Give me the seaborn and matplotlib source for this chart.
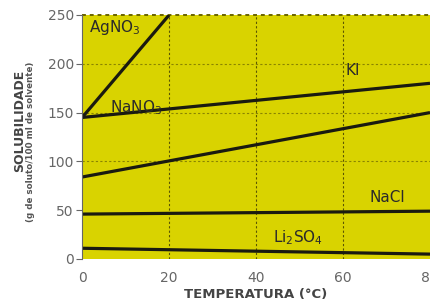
import pandas as pd
import matplotlib.pyplot as plt
import seaborn as sns

# solubility readings (g / 100 ml) at the chart's temperatures
temps = [0, 80]
agno3_temps = [0, 20]
agno3 = [145, 250]
ki = [145, 180]
nano3 = [84, 150]
nacl = [46, 49]
li2so4 = [11, 5]

df = pd.DataFrame({
    'temp': agno3_temps + temps * 4,
    'sol': agno3 + ki + nano3 + nacl + li2so4,
    'sal': ['AgNO3'] * 2 + ['KI'] * 2 + ['NaNO3'] * 2 + ['NaCl'] * 2 + ['Li2SO4'] * 2,
})

sns.set_style('ticks')
plt.rcParams['font.family'] = ['DejaVu Sans']

fig = plt.figure(figsize=(4.3, 3.02), dpi=100)
ax = fig.add_axes([0.191, 0.1424, 0.809, 0.808])
ax.set_facecolor('#d9d300')

for sal, grp in df.groupby('sal', sort=False):
    sns.lineplot(data=grp, x='temp', y='sol', color='#1a1a10', lw=2.3, ax=ax,
                 legend=False, solid_capstyle='butt')

ax.set_xlim(0, 79)
ax.set_ylim(0, 250)
ax.set_xticks([0, 20, 40, 60, 80])
ax.set_yticks([0, 50, 100, 150, 200, 250])
for x in [20, 40, 60]:
    ax.axvline(x, color='#5a5500', ls=(0, (2, 2)), lw=0.8, zorder=0)
for y in [100, 150, 200]:
    ax.axhline(y, color='#8a8400', ls=(0, (2, 2)), lw=0.8, zorder=0)
ax.axhline(250, color='#6a6400', ls=(0, (2, 2)), lw=1.4, zorder=0, clip_on=False)

for s in ['top', 'right', 'bottom']:
    ax.spines[s].set_visible(False)
ax.spines['left'].set_color('#666666')
ax.tick_params(axis='y', colors='#666666', labelsize=10, length=4, width=0.8, pad=2)
ax.tick_params(axis='x', colors='#666666', labelsize=10, length=0, pad=9)

ax.set_xlabel('TEMPERATURA (°C)', fontsize=9.5, fontweight='bold',
              color='#444444', labelpad=2)
ax.set_ylabel('')
fig.text(0.045, 0.60, 'SOLUBILIDADE', rotation=90, ha='center', va='center',
         fontsize=9, fontweight='bold', color='#444444')
fig.text(0.072, 0.53, '(g de soluto/100 ml de solvente)', rotation=90, ha='center',
         va='center', fontsize=6.3, fontweight='bold', color='#555555')

lbl = dict(fontsize=11, color='#2a2a2a')
ax.text(1.5, 233, 'AgNO$_3$', **lbl)
ax.text(60.5, 188, 'KI', **lbl)
ax.text(6.5, 150, 'NaNO$_3$', **lbl)
ax.text(66, 58, 'NaCl', **lbl)
ax.text(44, 17, 'Li$_2$SO$_4$', **lbl)

fig.savefig('out.png', dpi=100)
